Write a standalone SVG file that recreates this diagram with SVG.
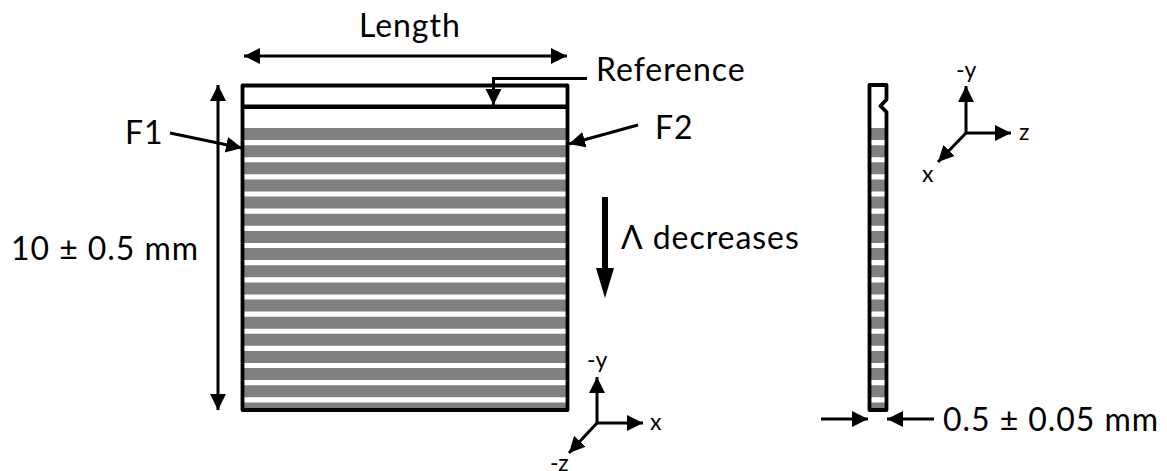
<svg xmlns="http://www.w3.org/2000/svg" width="1167" height="471" viewBox="0 0 1167 471">
<style>
text{font-family:"Lato","Open Sans","Liberation Sans",sans-serif;fill:#000}
.lb{font-size:32px;letter-spacing:.95px}
.ax{font-size:23px}
.band{fill:#808080}
.o{fill:none;stroke:#000;stroke-width:3.8;stroke-linejoin:round}
.c{fill:none;stroke:#000;stroke-width:3}
.e{marker-end:url(#a)}
.s{marker-start:url(#b)}
</style>
<defs>
<marker id="a" markerUnits="userSpaceOnUse" markerWidth="18" markerHeight="18" refX="16" refY="8" orient="auto"><path d="M0 0L16 8L0 16Z"/></marker>
<marker id="b" markerUnits="userSpaceOnUse" markerWidth="18" markerHeight="18" refX="0" refY="8" orient="auto"><path d="M16 0L0 8L16 16Z"/></marker>
<path id="bands" class="band" d="M0 128h1v12h-1zM0 145.2h1v12h-1zM0 162.3h1v12h-1zM0 179.5h1v12h-1zM0 196.6h1v12h-1zM0 213.8h1v12h-1zM0 230.9h1v12h-1zM0 248.1h1v12h-1zM0 265.2h1v12h-1zM0 282.4h1v12h-1zM0 299.5h1v12h-1zM0 316.7h1v12h-1zM0 333.8h1v12h-1zM0 351h1v12h-1zM0 368.1h1v12h-1zM0 385.3h1v12h-1zM0 402.4h1v7h-1z"/>
</defs>
<g id="front-plate">
<use href="#bands" transform="translate(243 0) scale(324 1)"/>
<rect class="o" x="242.500" y="85.500" width="325" height="324.500"/>
<line x1="242" y1="106.800" x2="568" y2="106.800" stroke="#000" stroke-width="4.500"/>
</g>
<g id="side-plate">
<use href="#bands" transform="translate(870 0) scale(16.500 1)"/>
<path class="o" d="M869.500 85H886.500V99.500L880.500 106L886.500 112V410H869.500Z"/>
</g>
<g id="connectors">
<line class="c s e" x1="244" y1="56" x2="567" y2="56"/>
<line class="c s e" x1="218" y1="85" x2="218" y2="410"/>
<path class="c e" d="M587 78.500H493.500V105"/>
<line class="c e" x1="170" y1="133" x2="242" y2="148"/>
<line class="c e" x1="638" y1="125" x2="569" y2="144"/>
<line x1="605" y1="197" x2="605" y2="270" stroke="#000" stroke-width="6"/>
<path d="M596 268H614L605 298Z"/>
<line class="c e" x1="597" y1="423" x2="597" y2="377"/>
<line class="c e" x1="597" y1="423" x2="643" y2="423"/>
<line class="c e" x1="597" y1="423" x2="569" y2="453"/>
<line class="c e" x1="966" y1="133" x2="966" y2="86"/>
<line class="c e" x1="966" y1="133" x2="1011" y2="133"/>
<line class="c e" x1="966" y1="133" x2="938" y2="162"/>
<line class="c e" x1="821" y1="419" x2="868" y2="419"/>
<line class="c e" x1="934" y1="419" x2="887" y2="419"/>
</g>
<g id="labels">
<text class="lb" x="359" y="37">Length</text>
<text class="lb" x="596" y="80.500">Reference</text>
<text class="lb" x="125" y="144">F1</text>
<text class="lb" x="655" y="139">F2</text>
<text class="lb" x="11" y="260">10 ± 0.5 mm</text>
<text class="lb" x="621" y="249">Λ decreases</text>
<text class="lb" x="943" y="431">0.5 ± 0.05 mm</text>
<text class="ax" x="587" y="368">-y</text>
<text class="ax" x="650" y="430">x</text>
<text class="ax" x="550" y="471">-z</text>
<text class="ax" x="956" y="78">-y</text>
<text class="ax" x="1019" y="140">z</text>
<text class="ax" x="922" y="182">x</text>
</g>
</svg>
